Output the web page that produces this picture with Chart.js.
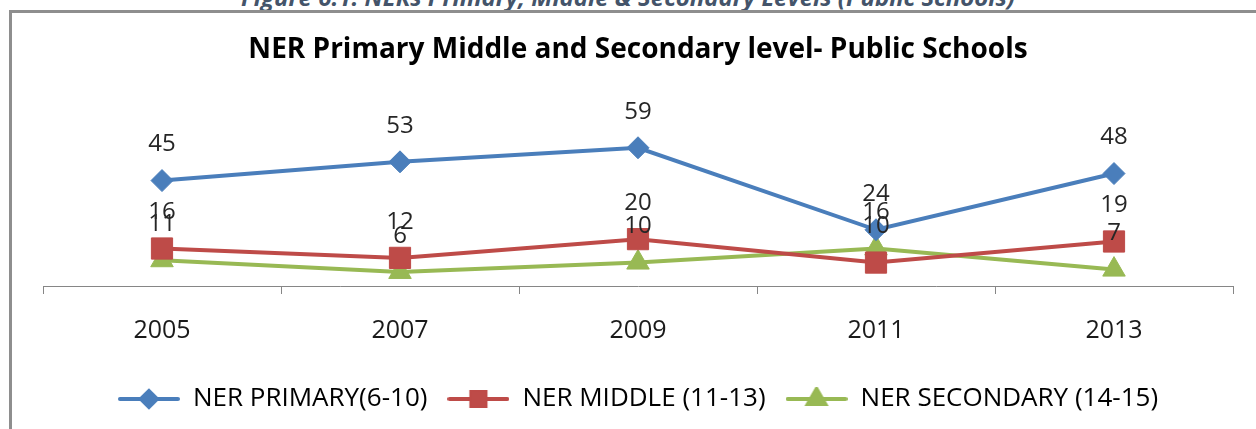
<!DOCTYPE html>
<html lang="en">
<head>
  <meta charset="UTF-8">
  <title>NER Primary Middle and Secondary level- Public Schools</title>
  <script src="https://cdn.jsdelivr.net/npm/chart.js"></script>
  <style>
    body {
      margin: 0;
      width: 1256px;
      height: 429px;
      overflow: hidden;
      position: relative;
      background: #fff;
      font-family: "Open Sans", sans-serif;
    }

    .caption {
      position: absolute;
      top: -15px;
      left: 0;
      width: 1256px;
      text-align: center;
      font-size: 24px;
      line-height: 24px;
      font-weight: bold;
      font-style: italic;
      color: #44546a;
    }

    .frame {
      position: absolute;
      top: 10px;
      left: 9px;
      right: -5px;
      bottom: -5px;
      border-top: 3px solid #8e8e8e;
      border-left: 3px solid #8e8e8e;
    }

    canvas {
      position: absolute;
      top: 0;
      left: 0;
    }
  </style>
</head>
<body>
  <div class="caption">Figure 6.1: NERs Primary, Middle &amp; Secondary Levels (Public Schools)</div>
  <div class="frame"></div>
  <canvas id="nerChart" width="1256" height="429"></canvas>

  <script>
    // Data
    const years = ["2005", "2007", "2009", "2011", "2013"];
    const nerPrimary = [45, 53, 59, 24, 48];
    const nerMiddle = [16, 12, 20, 10, 19];
    const nerSecondary = [11, 6, 10, 16, 7];

    const seriesNames = ["NER PRIMARY(6-10)", "NER MIDDLE (11-13)", "NER SECONDARY (14-15)"];
    const chartTitle = "NER Primary Middle and Secondary level- Public Schools";

    // Styles
    const blue = "#4a7ebb";
    const red = "#be4b48";
    const green = "#98b954";

    // Legend icon: short line with the marker on it
    const legendIcon = (color, style, radius) => {
      const c = document.createElement("canvas");
      c.width = 62;
      c.height = 24;
      const g = c.getContext("2d");
      g.strokeStyle = color;
      g.lineWidth = 4;
      g.lineCap = "round";
      g.beginPath();
      g.moveTo(2, 12);
      g.lineTo(60, 12);
      g.stroke();
      g.fillStyle = color;
      Chart.helpers.drawPoint(g, { pointStyle: style, radius: radius, borderWidth: 1 }, 31, 12);
      g.fill();
      return c;
    };

    // Value labels above each point
    const valueLabels = {
      id: "valueLabels",
      afterDatasetsDraw(chart) {
        const ctx = chart.ctx;
        ctx.save();
        ctx.font = "24px 'Open Sans'";
        ctx.fillStyle = "#262626";
        ctx.textAlign = "center";
        ctx.textBaseline = "middle";
        chart.data.datasets.forEach((ds, i) => {
          chart.getDatasetMeta(i).data.forEach((pt, j) => {
            ctx.fillText(String(ds.data[j]), pt.x, pt.y - 36);
          });
        });
        ctx.restore();
      },
    };

    const makeDataset = (label, data, color, style, radius) => ({
      label: label,
      data: data,
      borderColor: color,
      backgroundColor: color,
      borderWidth: 4,
      pointStyle: style,
      pointRadius: radius,
      pointBorderWidth: 1,
      pointBackgroundColor: color,
      pointBorderColor: color,
      tension: 0,
      fill: false,
    });

    const ctx = document.getElementById("nerChart").getContext("2d");
    const chart = new Chart(ctx, {
      type: "line",
      data: {
        labels: years,
        datasets: [
          makeDataset(seriesNames[0], nerPrimary, blue, "rectRot", 11),
          makeDataset(seriesNames[1], nerMiddle, red, "rect", 15),
          makeDataset(seriesNames[2], nerSecondary, green, "triangle", 13),
        ],
      },
      options: {
        responsive: false,
        animation: false,
        layout: {
          padding: { top: 12, left: 43, right: 23, bottom: 7 },
        },
        plugins: {
          title: {
            display: true,
            text: chartTitle,
            color: "#000",
            font: { family: "'Open Sans'", size: 28, weight: "bold", lineHeight: 1.2 },
            padding: { top: 21, bottom: 55.4 },
          },
          legend: {
            position: "bottom",
            labels: {
              usePointStyle: true,
              pointStyleWidth: 62,
              color: "#1a1a1a",
              padding: 20,
              font: { family: "'Open Sans'", size: 26 },
              generateLabels: (c) => [
                { text: seriesNames[0], pointStyle: legendIcon(blue, "rectRot", 8), datasetIndex: 0, lineWidth: 0 },
                { text: seriesNames[1], pointStyle: legendIcon(red, "rect", 10), datasetIndex: 1, lineWidth: 0 },
                { text: seriesNames[2], pointStyle: legendIcon(green, "triangle", 10), datasetIndex: 2, lineWidth: 0 },
              ],
            },
          },
          tooltip: { enabled: false },
        },
        scales: {
          x: {
            offset: true,
            afterFit: (scale) => {
              scale.height -= 2;
            },
            grid: {
              offset: true,
              drawOnChartArea: false,
              drawTicks: true,
              tickLength: 8,
              color: "#868686",
            },
            border: { display: true, color: "#868686", width: 1 },
            ticks: {
              color: "#1a1a1a",
              padding: 22,
              font: { family: "'Open Sans'", size: 25 },
            },
          },
          y: {
            display: false,
            min: 0,
            max: 70,
          },
        },
      },
      plugins: [valueLabels],
    });
  </script>
</body>
</html>
